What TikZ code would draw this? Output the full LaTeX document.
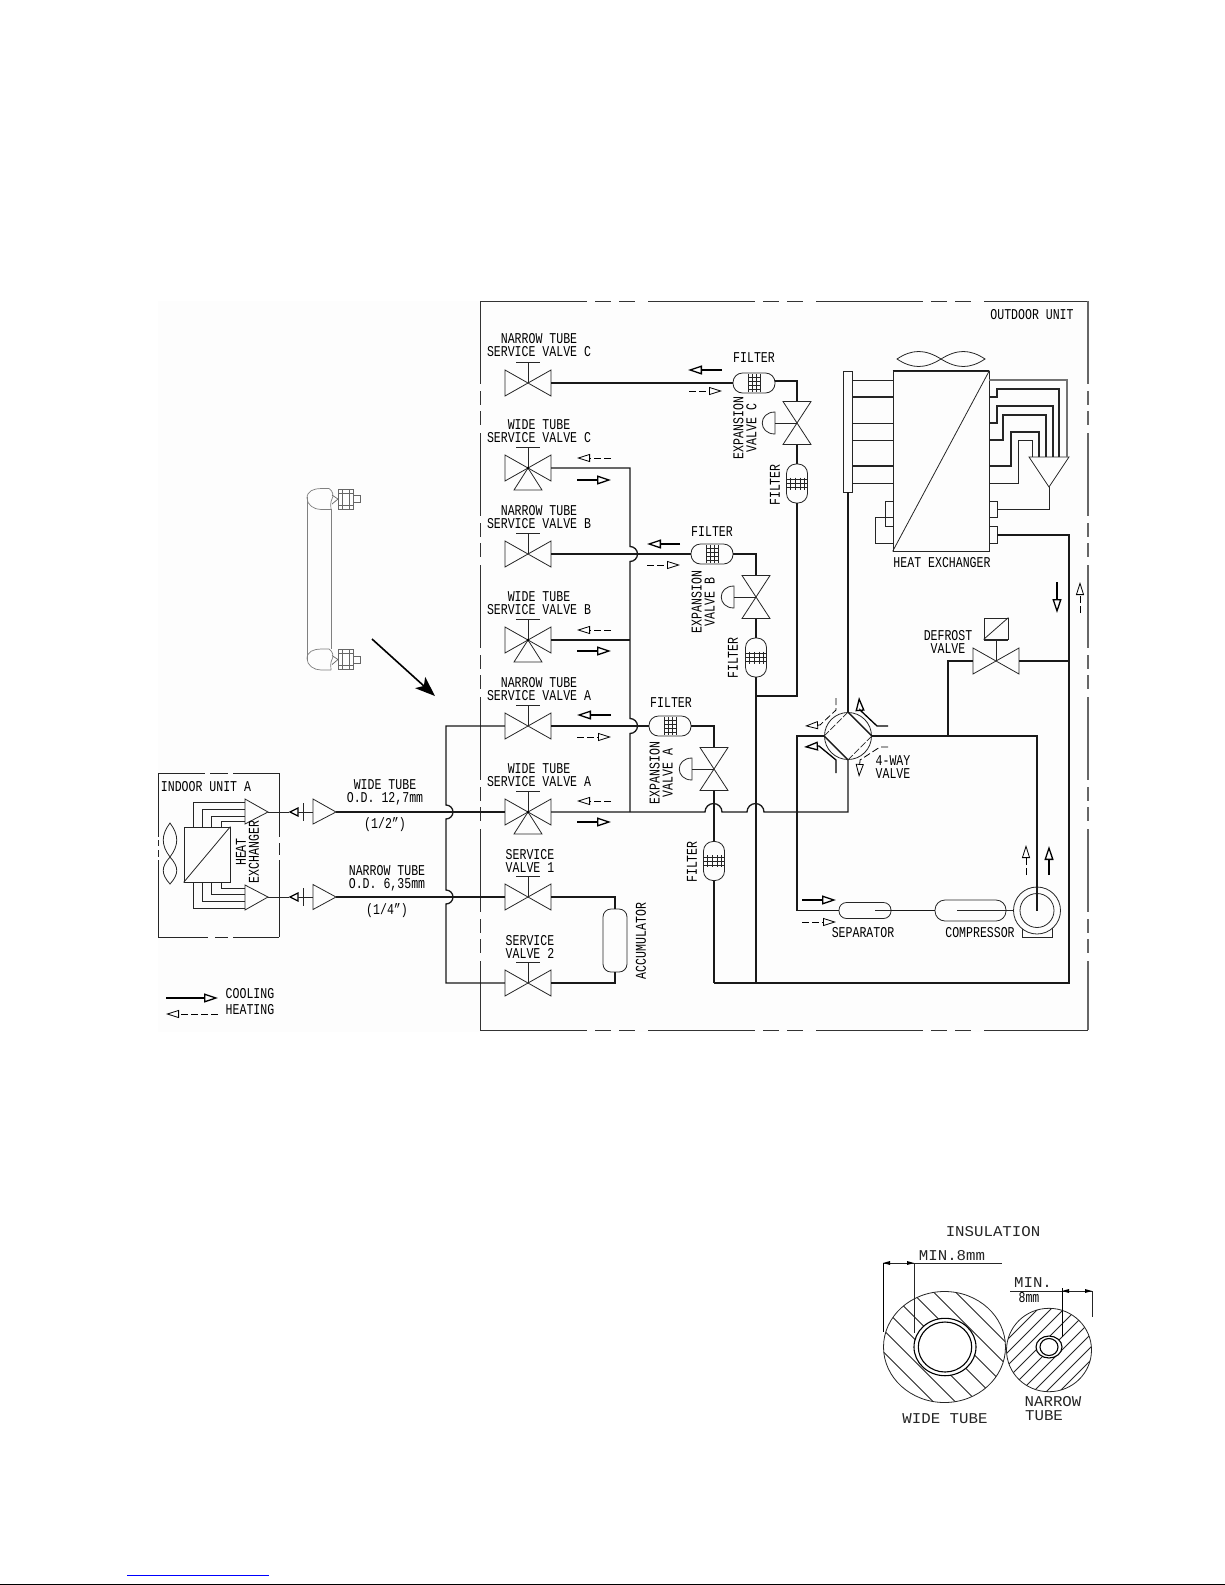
\documentclass[tikz,border=0pt]{standalone}
\usepackage{fontspec}
\setmainfont[FakeStretch=0.77]{Liberation Mono}
\newfontfamily\widefam[FakeStretch=1.05]{Liberation Mono}
\usetikzlibrary{arrows.meta}
\definecolor{offwhite}{gray}{0.992}
\tikzset{
  thinl/.style={line width=0.8pt,draw=black!85},
  pipe/.style={line width=1.3pt,draw=black!90},
  tube/.style={line width=1.1pt,draw=black!85},
  lab/.style={font=\fontsize{15}{13}\selectfont,inner sep=0pt,align=center,text=black},
  wlab/.style={font=\widefam\fontsize{15}{13}\selectfont,inner sep=0pt,align=center,text=black!85},
  vbox/.style={minimum width=46pt,minimum height=26pt,inner sep=0pt},
  vvbox/.style={minimum width=28pt,minimum height=43pt,inner sep=0pt},
  fhbox/.style={minimum width=42pt,minimum height=20pt,inner sep=0pt,thinl,draw,rounded corners=9.5pt},
  fvbox/.style={minimum width=21pt,minimum height=39pt,inner sep=0pt,thinl,draw,rounded corners=9.5pt},
  coolarrow/.style={line width=1.3pt,-{Triangle[open,length=14pt,width=9pt]}},
  heatarrow/.style={line width=0.8pt,dash pattern=on 7pt off 3pt,-{Triangle[open,length=13pt,width=8pt]}},
  outl/.style={line width=0.8pt,draw=black!80,dash pattern=on 107pt off 8pt on 16pt off 8pt on 16pt off 13pt},
  outv/.style={line width=0.8pt,draw=black!80,dash pattern=on 83pt off 7pt on 14pt off 6pt on 14pt off 8pt},
  valve/.pic={
    \draw[thinl] (-23,-13)--(23,13)--(23,-13)--(-23,13)--cycle;
    \draw[thinl] (0,0)--(0,-21) (-12,-21)--(12,-21);
  },
  threeway/.pic={
    \draw[thinl] (-23,-13)--(23,13)--(23,-13)--(-23,13)--cycle;
    \draw[thinl] (0,0)--(0,-21) (-12,-21)--(12,-21);
    \draw[thinl] (0,0)--(-14,22)--(14,22)--cycle;
    \fill (0,0) circle (1.5);
  },
  vvalve/.pic={
    \draw[thinl] (-14,-21.5)--(14,21.5)--(-14,21.5)--(14,-21.5)--cycle;
    \draw[thinl] (0,0)--(-22,0);
    \draw[thinl] (-22,-11) .. controls (-39,-11) and (-39,11) .. (-22,11) -- cycle;
  },
  hgrid/.pic={
    \draw[thinl] (-6,-9)--(-6,9) (-2,-9)--(-2,9) (2,-9)--(2,9) (6,-9)--(6,9)
      (-6,-6)--(6,-6) (-6,-2)--(6,-2) (-6,2)--(6,2) (-6,6)--(6,6);
  },
  vgrid/.pic={
    \draw[thinl] (-10.5,-4)--(10.5,-4) (-10.5,0)--(10.5,0) (-10.5,4)--(10.5,4)
      (-7,-6)--(-7,6) (-2,-6)--(-2,6) (3,-6)--(3,6) (7,-6)--(7,6);
  },
  nut/.pic={
    \draw[gray,line width=0.7pt] (-24,-1) .. controls (-24,6) and (-17,10.5) .. (-10,10.5) -- (0,10.5);
    \draw[gray,line width=0.7pt] (-24,-1) .. controls (-24,-8) and (-17,-10.5) .. (-10,-10.5) -- (-2,-10.5);
    \draw[gray,line width=0.7pt] (-2,-10.5) .. controls (2,-8) and (3,-3) .. (1,0) .. controls (-1,3) and (0,8) .. (0,10.5);
    \draw[black!60,line width=0.7pt] (7,-10) rectangle (22,10) (11,-10)--(11,10) (18,-10)--(18,10) (7,-6)--(22,-6) (7,6)--(22,6);
    \draw[black!60,line width=0.7pt] (1,-4)--(7,0)--(1,5);
    \draw[black!60,line width=0.7pt] (22,-3.5) rectangle (29,3.5);
  }
}
\begin{document}
\begin{tikzpicture}[x=1pt,y=-1pt]
\useasboundingbox (0,0) rectangle (1225,1585);
\fill[white] (0,0) rectangle (1225,1585);
\fill[offwhite] (158,301) rectangle (1090,1032);
\fill[black] (0,1584) rectangle (1225,1585);
\coordinate (uA) at (127,1575.5); \coordinate (uB) at (269,1575.5);
\draw[blue,line width=1pt] (uA)--(uB);

% outdoor unit frame
\coordinate (oTL) at (480,301); \coordinate (oTR) at (1088,301);
\coordinate (oBL) at (480,1030); \coordinate (oBR) at (1088,1030);
\draw[outl] (oTL)--(oTR);
\draw[outl] (oBL)--(oBR);
\draw[outv] (oTL)--(oBL);
\draw[outv,line width=1.3pt,draw=black!60] (oTR)--(oBR);

% valves
\node[vbox] (nc) at (528,383) {}; \pic at (nc) {valve};
\node[vbox] (wc) at (528,468) {}; \pic at (wc) {threeway};
\node[vbox] (nb) at (528,554) {}; \pic at (nb) {valve};
\node[vbox] (wb) at (528,640) {}; \pic at (wb) {threeway};
\node[vbox] (na) at (528,726) {}; \pic at (na) {valve};
\node[vbox] (wa) at (528,812) {}; \pic at (wa) {threeway};
\node[vbox] (sa) at (528,897) {}; \pic at (sa) {valve};
\node[vbox] (sb) at (528,983) {}; \pic at (sb) {valve};
\node[vbox] (dv) at (996,661) {}; \pic at (dv) {valve};
\node[thinl,draw,minimum width=24pt,minimum height=21pt,inner sep=0pt] (sol) at (996,628.5) {};
\draw[thinl] (sol.south west)--(sol.north east);

\node[vvbox] (xc) at (797,423) {}; \pic at (xc) {vvalve};
\node[vvbox] (xb) at (756,597) {}; \pic at (xb) {vvalve};
\node[vvbox] (xa) at (714,769) {}; \pic at (xa) {vvalve};

% filters
\node[fhbox] (fc) at (754,383) {}; \pic at (fc) {hgrid};
\node[fhbox] (fb) at (712,554) {}; \pic at (fb) {hgrid};
\node[fhbox] (fa) at (670,726) {}; \pic at (fa) {hgrid};
\node[fvbox] (fc2) at (797,483.5) {}; \pic at (fc2) {vgrid};
\node[fvbox] (fb2) at (756,657.5) {}; \pic at (fb2) {vgrid};
\node[fvbox] (fa2) at (714,861) {}; \pic at (fa2) {vgrid};

% vessels
\node[thinl,draw,minimum width=24pt,minimum height=63pt,inner sep=0pt,rounded corners=8pt] (acc) at (615,940.5) {};
\node[thinl,draw,minimum width=52pt,minimum height=16pt,inner sep=0pt,rounded corners=7.5pt] (sep) at (865,910.5) {};
\node[thinl,draw,minimum width=71pt,minimum height=21pt,inner sep=0pt,rounded corners=10pt] (cap) at (970.5,910.5) {};
\draw[thinl] (1022,925) rectangle (1052,937);
\node[thinl,draw,fill=offwhite,circle,minimum size=47pt,inner sep=0pt] (cp) at (1037,910.5) {};
\node[thinl,draw,circle,minimum size=34pt,inner sep=0pt] (cpi) at (1037,910.5) {};
\draw[thinl] (875,910.5)--(sep.east);
\draw[thinl] (957,910.5)--(cp.west);

% four-way valve
\node[thinl,draw,circle,minimum size=47pt,inner sep=0pt] (fw) at (848,736) {};
\draw[pipe] (fw.north)--(fw.east);
\draw[pipe] (fw.west)--(fw.south);
\draw[thinl,dash pattern=on 7pt off 2pt] (fw.north)--(fw.west);
\draw[thinl,dash pattern=on 7pt off 2pt] (fw.east)--(fw.south);

% outdoor heat exchanger
\node[thinl,draw,minimum width=96pt,minimum height=180pt,inner sep=0pt] (hx) at (941,461) {};
\draw[pipe] (hx.north west)--(hx.north east);
\draw[thinl] (hx.south west)--(hx.north east);
\node[thinl,draw,minimum width=9pt,minimum height=121pt,inner sep=0pt] (mf) at (847.5,431.5) {};
\coordinate (fanc) at (941,359);
\draw[thinl] (fanc) .. controls (925,349) and (912,349) .. (897,359) .. controls (912,369) and (925,369) .. (fanc)
  .. controls (957,349) and (970,349) .. (985,359) .. controls (970,369) and (957,369) .. (fanc);
\foreach \y/\s in {380/thinl,397/tube,423/thinl,440/thinl,466/tube,483/thinl}{
  \draw[\s] (mf.east |- 0,\y) -- (hx.west |- 0,\y);
}
% distributor
\coordinate (dL) at (1029,457); \coordinate (dR) at (1069,457); \coordinate (dA) at (1049,487);
\draw[thinl] (dL)--(dR)--(dA)--cycle;
\draw[line width=1.1pt,draw=black!55] (989,380)--(1067,380)--(1067,457);
\draw[tube] (989,397)--(997,397)--(997,389)--(1059,389)--(1059,457);
\draw[tube] (989,423)--(997,423)--(997,406)--(1053,406)--(1053,457);
\draw[tube] (989,440)--(1003,440)--(1003,415)--(1046,415)--(1046,457);
\draw[tube] (989,466)--(1011,466)--(1011,432)--(1039,432)--(1039,457);
\draw[thinl] (989,483)--(1018,483)--(1018,440)--(1032,440)--(1032,457);
\node[thinl,draw,minimum width=8pt,minimum height=16pt,inner sep=0pt] (st1) at (993,509) {};
\node[thinl,draw,minimum width=8pt,minimum height=17pt,inner sep=0pt] (st2) at (993,535) {};
\draw[thinl] (dA)--(1049,509)--(st1.east);
\node[thinl,draw,minimum width=8pt,minimum height=25pt,inner sep=0pt] (st3) at (889,513.5) {};
\coordinate (lp1) at (875,517); \coordinate (lp2) at (875,543);
\draw[thinl] (hx.west |- 0,517)--(lp1)--(lp2)--(hx.west |- 0,543);

% junction coordinates
\coordinate (jcb) at (756,696);
\coordinate (jb1) at (714,983);
\coordinate (jb2) at (756,983);
\coordinate (jbr) at (1069,983);
\coordinate (jr) at (1069,535);
\coordinate (jd) at (948,736);

% pipes
\draw[pipe] (nc.east)--(fc.west);
\draw[pipe] ([yshift=2pt]fc.east) -| (xc.north);
\draw[pipe] (xc.south)--(fc2.north);
\draw[pipe] (fc2.south) |- (jcb);
\draw[pipe] (nb.east)--(fb.west);
\draw[pipe] (fb.east) -| (xb.north);
\draw[pipe] (xb.south)--(fb2.north);
\draw[pipe] (fb2.south)--(jb2);
\draw[pipe] (na.east)--(fa.west);
\draw[pipe] (fa.east) -| (xa.north);
\draw[pipe] (xa.south)--(fa2.north);
\draw[pipe] (fa2.south)--(jb1);
\draw[pipe] (jb1)--(jbr)--(jr)--(st2.east);
\draw[pipe] (dv.east)--(jr |- dv.east);
\draw[pipe] (dv.west) -| (jd);
\draw[thinl] (dv.center)--(sol.south);
\draw[pipe] (fw.north)--(mf.south -| fw.north);
\draw[pipe] (wa.east)--(705,812) arc[start angle=180,end angle=360,radius=8.5] --(747,812) arc[start angle=180,end angle=360,radius=8.5]--(848,812)--(fw.south);
\draw[pipe] (wc.east)--(630,468)--(630,546.5) arc[start angle=-90,end angle=90,radius=7.5]--(630,718.5) arc[start angle=-90,end angle=90,radius=7.5]--(630,812);
\draw[pipe] (wb.east)--(630,640);
\draw[pipe] (fw.east)--(1037,736)--(cp.center);
\draw[pipe] (fw.west)--(797,736)--(797,910.5)--(sep.west);
\draw[pipe] (sep.east)--(cap.west);
\draw[pipe] (sa.east) -| (acc.north);
\draw[pipe] (sb.east) -| (acc.south);
\draw[pipe] (na.west)--(446,726)--(446,805) arc[start angle=-90,end angle=90,radius=7]--(446,890) arc[start angle=-90,end angle=90,radius=7]--(446,983)--(sb.west);

% indoor unit
\coordinate (iTL) at (158,773); \coordinate (iTR) at (279,773); \coordinate (iBL) at (158,937); \coordinate (iBR) at (279,937);
\draw[thinl] (iTL)--(205,773) (210,773)--(228,773) (233,773)--(iTR);
\draw[thinl] (iBL)--(208,937) (215,937)--(228,937) (233,937)--(iBR);
\draw[thinl] (iTL)--(158,837) (158,840)--(158,846) (158,850)--(158,857) (158,860)--(iBL);
\draw[thinl] (iTR)--(279,837) (279,843)--(279,855) (279,860)--(iBR);
\node[thinl,draw,minimum width=46pt,minimum height=55pt,inner sep=0pt] (ihx) at (207,854.5) {};
\draw[thinl] (ihx.south west)--(ihx.north east);
\coordinate (ifan) at (170,857);
\draw[thinl] (ifan) .. controls (161,845) and (161,835) .. (170,823) .. controls (179,835) and (179,845) .. (ifan)
  .. controls (161,867) and (161,874) .. (170,884) .. controls (179,874) and (179,867) .. (ifan);
\coordinate (t1) at (268,812); \coordinate (t2) at (268,897);
\coordinate (w1) at (336,812); \coordinate (w2) at (336,897);
\draw[thinl] (245,799)--(245,824)--(t1)--cycle;
\draw[thinl] (245,885)--(245,910)--(t2)--cycle;
\draw[thinl] (313,799)--(313,824)--(w1)--cycle;
\draw[thinl] (313,884.5)--(313,909.5)--(w2)--cycle;
\foreach \tx/\ty/\by in {193/802/908,202/809/901,211/816/894,221/821/888}{
  \draw[thinl] (\tx,827)--(\tx,\ty)--(245,\ty);
  \draw[thinl] (\tx,882)--(\tx,\by)--(245,\by);
}
\foreach \c in {t1,t2}{
  \draw[thinl] (\c)--++(21,0);
  \draw[line width=1.2pt] ([xshift=22pt]\c)--++(8,-4)--++(0,8)--cycle;
  \draw[thinl] ([xshift=30pt]\c)--++(15,0);
  \draw[thinl] ([xshift=35pt,yshift=9pt]\c)--++(0,18);
}
\draw[pipe] (w1)--(wa.west);
\draw[pipe] (w2)--(sa.west);

% big arrow and hose
\coordinate (ba1) at (372,639); \coordinate (ba2) at (435,696);
\draw[line width=1.6pt,-{Stealth[length=20pt,width=15pt,inset=5pt]}] (ba1)--(ba2);
\pic at (331,499) {nut};
\pic at (331,659.5) {nut};
\draw[gray,line width=0.7pt] (307,497)--(307,660);
\draw[gray,line width=0.7pt] (331,509)--(331,649);

% flow arrows
\foreach \ya/\yb in {458/480,630/651,801/822}{
  \draw[heatarrow] (611,\ya)--(577,\ya);
  \draw[coolarrow] (577,\yb)--(611,\yb);
}
\draw[coolarrow] (722,370)--(688,370);
\draw[heatarrow] (689,391)--(722,391);
\draw[coolarrow] (680,544)--(647,544);
\draw[heatarrow] (647,565)--(680,565);
\draw[coolarrow] (611,715)--(577,715);
\draw[heatarrow] (577,737)--(611,737);
\draw[coolarrow] (1049,875)--(1049,846);
\draw[heatarrow] (1026,875)--(1026,845);
\draw[coolarrow] (802,900)--(836,900);
\draw[heatarrow] (802,922)--(836,922);
\draw[coolarrow] (1057,582)--(1057,613);
\draw[heatarrow] (1080,613)--(1080,582);
\draw[coolarrow] (888,726)--(877,726)--(860,710)--(859,697);
\draw[heatarrow] (836,698)--(836,710)--(820,725)--(805,726);
\draw[coolarrow] (836,773)--(836,760)--(819,746)--(804,747);
\draw[heatarrow] (888,747)--(880,747)--(860,760)--(859,777);
\draw[coolarrow] (166,998)--(218,998);
\draw[heatarrow] (218,1014)--(166,1014);

% labels
\node[lab] (l1) at (539,345.5) {NARROW TUBE\\SERVICE VALVE C};
\node[lab] (l2) at (539,431) {WIDE TUBE\\SERVICE VALVE C};
\node[lab] (l3) at (539,517) {NARROW TUBE\\SERVICE VALVE B};
\node[lab] (l4) at (539,603) {WIDE TUBE\\SERVICE VALVE B};
\node[lab] (l5) at (539,689) {NARROW TUBE\\SERVICE VALVE A};
\node[lab] (l6) at (539,775) {WIDE TUBE\\SERVICE VALVE A};
\node[lab] (l7) at (530,860.5) {SERVICE\\VALVE 1};
\node[lab] (l8) at (530,946.5) {SERVICE\\VALVE 2};
\node[lab] (l9) at (1032,315) {OUTDOOR UNIT};
\node[lab] (l10) at (942,563) {HEAT EXCHANGER};
\node[lab] (l11) at (948,642) {DEFROST\\VALVE};
\node[lab] (l12) at (754,358) {FILTER};
\node[lab] (l13) at (712,532) {FILTER};
\node[lab] (l14) at (671,703) {FILTER};
\node[lab,rotate=90] (l15) at (745,428) {EXPANSION\\VALVE C};
\node[lab,rotate=90] (l16) at (703,602) {EXPANSION\\VALVE B};
\node[lab,rotate=90] (l17) at (661,773) {EXPANSION\\VALVE A};
\node[lab,rotate=90] (l18) at (775,485) {FILTER};
\node[lab,rotate=90] (l19) at (733,658) {FILTER};
\node[lab,rotate=90] (l20) at (692,862) {FILTER};
\node[lab,rotate=90] (l21) at (641,941) {ACCUMULATOR};
\node[lab] (l22) at (863,933) {SEPARATOR};
\node[lab] (l23) at (980,933) {COMPRESSOR};
\node[lab] (l24) at (893,767.5) {4-WAY\\VALVE};
\node[lab] (l25) at (385,792.5) {WIDE TUBE\\O.D. 12,7mm};
\node[lab] (l26) at (385,825) {(1/2")};
\node[lab] (l27) at (387,878.5) {NARROW TUBE\\O.D. 6,35mm};
\node[lab] (l28) at (387,911) {(1/4")};
\node[lab] (l29) at (206,787) {INDOOR UNIT A};
\node[lab,rotate=90] (l30) at (247.5,852) {HEAT\\EXCHANGER};
\node[lab] (l31) at (250,994) {COOLING};
\node[lab] (l32) at (250,1010) {HEATING};

% insulation section
\coordinate (wcc) at (944.5,1347);
\coordinate (ncc) at (1049,1350);
\begin{scope}
  \clip (wcc) ellipse (61 and 55.5);
  \foreach \c in {-132,-110,...,132}{
    \draw[thinl] ([xshift=\c pt]wcc) ++(-70,-70)--++(140,140);
  }
\end{scope}
\begin{scope}
  \clip (ncc) ellipse (42.5 and 41.7);
  \foreach \c in {-104,-91,...,104}{
    \draw[thinl] ([xshift=\c pt]ncc) ++(-50,50)--++(100,-100);
  }
\end{scope}
\draw[thinl] (wcc) ellipse (61 and 55.5);
\draw[thinl] (ncc) ellipse (42.5 and 41.7);
\fill[white] (945,1347) ellipse (31 and 28.7);
\fill[white] (1049,1347) ellipse (13 and 11);
\draw[line width=1.1pt] (945,1347) ellipse (31 and 28.7);
\draw[line width=1.1pt] (945,1347) ellipse (26.7 and 25);
\draw[line width=1.1pt] (1049,1347) ellipse (13 and 11);
\draw[line width=1.1pt] (1049,1347) ellipse (9 and 8.5);
\coordinate (d1) at (883,1263); \coordinate (d2) at (914,1263); \coordinate (d3) at (1002,1263);
\draw[thinl] (d1)--(d3);
\draw[line width=1pt] (d1)--(883,1332);
\draw[thinl] (d2)--(914,1333);
\fill (d1)--++(7,-2)--++(0,4)--cycle;
\fill (d2)--++(-7,-2)--++(0,4)--cycle;
\coordinate (e1) at (1010,1291); \coordinate (e2) at (1062,1291); \coordinate (e3) at (1092,1291);
\draw[thinl] (e1)--(e3);
\draw[line width=1pt] (1062,1288)--(1062,1337);
\draw[thinl] (e3)--(1092,1317);
\fill (e2)--++(7,-2)--++(0,4)--cycle;
\fill (e3)--++(-7,-2)--++(0,4)--cycle;
\node[wlab] (m1) at (993,1232) {INSULATION};
\node[wlab] (m2) at (952,1256) {MIN.8mm};
\node[wlab] (m3) at (1033,1283) {MIN.};
\node[lab] (m4) at (1029,1298) {8mm};
\node[wlab] (m5) at (945,1419) {WIDE TUBE};
\node[wlab] (m6) at (1053,1402) {NARROW};
\node[wlab] (m7) at (1044,1416) {TUBE};
\end{tikzpicture}
\end{document}
